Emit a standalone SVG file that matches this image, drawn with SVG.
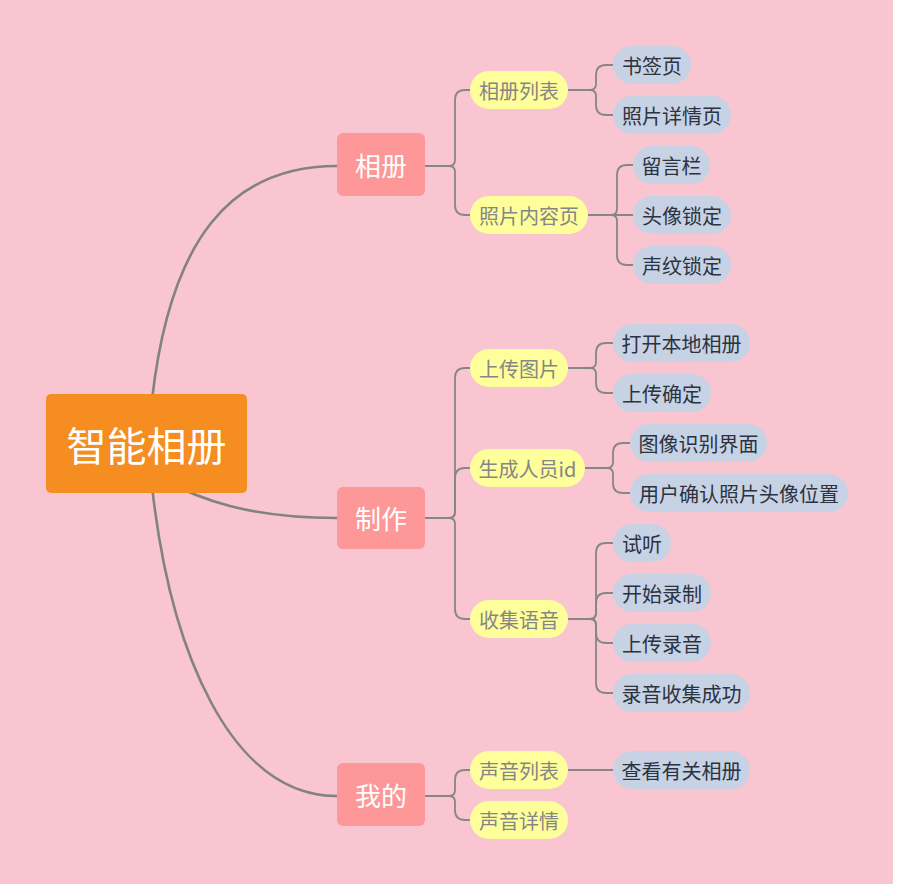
<svg xmlns="http://www.w3.org/2000/svg" width="898" height="889" viewBox="0 0 898 889">
<style>
.t{font-family:"Noto Sans CJK SC","Noto Sans",sans-serif;text-anchor:middle}
.root rect{fill:#F68D20}
.root text{fill:#FFFFFF;font-size:40px}
.main rect{fill:#FE9797}
.main text{fill:#FFFFFF;font-size:26px}
.sub rect{fill:#FEFE9A}
.sub text{fill:#868686;font-size:20px}
.leaf rect{fill:#C7D2E4}
.leaf text{fill:#2B3340;font-size:20px}
.c1{fill:none;stroke:#828282;stroke-width:2.6}
.c2{fill:none;stroke:#868686;stroke-width:1.8}
</style>
<rect x="0" y="0" width="898" height="889" fill="#FFFFFF"/>
<rect x="0" y="0" width="893" height="884" fill="#F9C5D1"/>
<g id="connectors">
<path class="c1" d="M152,400 C170,240 230,166 337,166"/>
<path class="c1" d="M160,478 C200,500 250,518 337,518"/>
<path class="c1" d="M152,486 C170,650 230,796 337,796"/>
<path class="c2" d="M425,166 H449 Q455,166 455,160 V100 Q455,90 465,90 H470"/>
<path class="c2" d="M425,166 H449 Q455,166 455,172 V205 Q455,215 465,215 H470"/>
<path class="c2" d="M568,90 H590 Q596,90 596,84 V75 Q596,65 606,65 H613"/>
<path class="c2" d="M568,90 H590 Q596,90 596,96 V105 Q596,115 606,115 H613"/>
<path class="c2" d="M588,215 H611 Q617,215 617,209 V175 Q617,165 627,165 H633"/>
<path class="c2" d="M588,215 H633"/>
<path class="c2" d="M588,215 H611 Q617,215 617,221 V255 Q617,265 627,265 H633"/>
<path class="c2" d="M425,518 H449 Q455,518 455,512 V378 Q455,368 465,368 H470"/>
<path class="c2" d="M425,518 H449 Q455,518 455,512 V478 Q455,468 465,468 H470"/>
<path class="c2" d="M425,518 H449 Q455,518 455,524 V609 Q455,619 465,619 H470"/>
<path class="c2" d="M568,368 H590 Q596,368 596,362 V353 Q596,343 606,343 H613"/>
<path class="c2" d="M568,368 H590 Q596,368 596,374 V383 Q596,393 606,393 H613"/>
<path class="c2" d="M585,468 H607 Q613,468 613,462 V453 Q613,443 623,443 H630"/>
<path class="c2" d="M585,468 H607 Q613,468 613,474 V483 Q613,493 623,493 H630"/>
<path class="c2" d="M568,619 H590 Q596,619 596,613 V553 Q596,543 606,543 H613"/>
<path class="c2" d="M568,619 H590 Q596,619 596,613 V603 Q596,593 606,593 H613"/>
<path class="c2" d="M568,619 H590 Q596,619 596,625 V633 Q596,643 606,643 H613"/>
<path class="c2" d="M568,619 H590 Q596,619 596,625 V683 Q596,693 606,693 H613"/>
<path class="c2" d="M425,796 H449 Q455,796 455,790 V780 Q455,770 465,770 H470"/>
<path class="c2" d="M425,796 H449 Q455,796 455,802 V810 Q455,820 465,820 H470"/>
<path class="c2" d="M568,770 H613"/>
</g>
<g id="root" class="root"><rect x="46" y="394" width="201" height="99" rx="5"/><text class="t" x="146.5" y="461">智能相册</text></g>
<g id="n-xiangce" class="main"><rect x="337" y="133" width="88" height="63" rx="6"/><text class="t" x="381" y="176">相册</text></g>
<g id="n-zhizuo" class="main"><rect x="337" y="487" width="88" height="62" rx="6"/><text class="t" x="381" y="529">制作</text></g>
<g id="n-wode" class="main"><rect x="337" y="763" width="88" height="63" rx="6"/><text class="t" x="381" y="806">我的</text></g>
<g id="n-xclb" class="sub"><rect x="470" y="71" width="98" height="38" rx="19"/><text class="t" x="519" y="99">相册列表</text></g>
<g id="n-zpnry" class="sub"><rect x="470" y="196" width="118" height="38" rx="19"/><text class="t" x="529" y="224">照片内容页</text></g>
<g id="n-sctp" class="sub"><rect x="470" y="349" width="98" height="38" rx="19"/><text class="t" x="519" y="377">上传图片</text></g>
<g id="n-scryid" class="sub"><rect x="470" y="449" width="115" height="38" rx="19"/><text class="t" x="527.5" y="477">生成人员id</text></g>
<g id="n-sjyy" class="sub"><rect x="470" y="600" width="98" height="38" rx="19"/><text class="t" x="519" y="628">收集语音</text></g>
<g id="n-sylb" class="sub"><rect x="470" y="751" width="98" height="38" rx="19"/><text class="t" x="519" y="779">声音列表</text></g>
<g id="n-syxq" class="sub"><rect x="470" y="801" width="98" height="38" rx="19"/><text class="t" x="519" y="829">声音详情</text></g>
<g id="l-sqy" class="leaf"><rect x="613" y="46" width="78" height="38" rx="19"/><text class="t" x="652" y="74">书签页</text></g>
<g id="l-zpxqy" class="leaf"><rect x="613" y="96" width="118" height="38" rx="19"/><text class="t" x="672" y="124">照片详情页</text></g>
<g id="l-lyl" class="leaf"><rect x="633" y="146" width="77" height="38" rx="19"/><text class="t" x="671.5" y="174">留言栏</text></g>
<g id="l-txsd" class="leaf"><rect x="633" y="196" width="98" height="38" rx="19"/><text class="t" x="682" y="224">头像锁定</text></g>
<g id="l-swsd" class="leaf"><rect x="633" y="246" width="98" height="38" rx="19"/><text class="t" x="682" y="274">声纹锁定</text></g>
<g id="l-dkbdxc" class="leaf"><rect x="613" y="324" width="137" height="38" rx="19"/><text class="t" x="681.5" y="352">打开本地相册</text></g>
<g id="l-scqd" class="leaf"><rect x="613" y="374" width="98" height="38" rx="19"/><text class="t" x="662" y="402">上传确定</text></g>
<g id="l-txsbjm" class="leaf"><rect x="630" y="424" width="137" height="38" rx="19"/><text class="t" x="698.5" y="452">图像识别界面</text></g>
<g id="l-yhqr" class="leaf"><rect x="630" y="474" width="218" height="38" rx="19"/><text class="t" x="739" y="502">用户确认照片头像位置</text></g>
<g id="l-st" class="leaf"><rect x="613" y="524" width="58" height="38" rx="19"/><text class="t" x="642" y="552">试听</text></g>
<g id="l-kslz" class="leaf"><rect x="613" y="574" width="98" height="38" rx="19"/><text class="t" x="662" y="602">开始录制</text></g>
<g id="l-scly" class="leaf"><rect x="613" y="624" width="98" height="38" rx="19"/><text class="t" x="662" y="652">上传录音</text></g>
<g id="l-lysjcg" class="leaf"><rect x="613" y="674" width="137" height="38" rx="19"/><text class="t" x="681.5" y="702">录音收集成功</text></g>
<g id="l-ckygxc" class="leaf"><rect x="613" y="751" width="137" height="38" rx="19"/><text class="t" x="681.5" y="779">查看有关相册</text></g>
</svg>
